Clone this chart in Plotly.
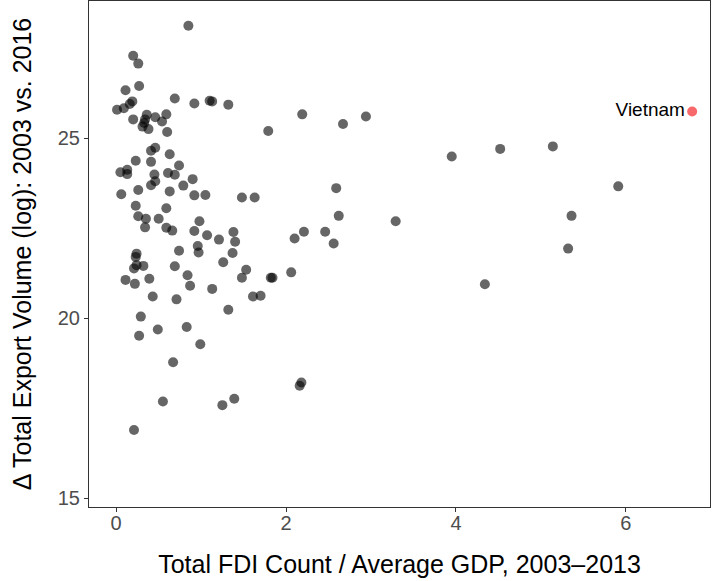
import plotly.graph_objects as go

# FDI count / avg GDP (x) and change in export volume (log) (y)
fdi_ratio = [
    0.85, 0.20, 0.26, 0.27, 0.11, 0.69, 0.92, 1.10, 1.13, 1.32,
    0.19, 0.16, 0.01, 0.09, 0.36, 0.34, 0.33, 0.46, 0.59, 0.20,
    0.31, 0.38, 0.54, 0.60, 1.79, 0.46, 0.41, 0.63, 0.23, 0.41,
    0.74, 0.05, 0.13, 0.13, 0.45, 0.61, 0.69, 0.90, 0.46, 0.41,
    0.79, 0.26, 0.63, 0.06, 0.92, 1.05, 1.48, 1.63, 0.23, 0.59,
    0.26, 0.35, 0.50, 0.34, 0.59, 0.66, 0.98, 0.92, 1.07, 1.21,
    1.38, 1.40, 0.96, 0.97, 0.74, 1.37, 0.24, 0.23, 0.32, 0.21,
    0.24, 0.69, 1.26, 1.53, 1.48, 1.82, 1.84, 0.84, 0.39, 0.11,
    0.22, 0.87, 1.13, 0.43, 0.71, 1.61, 1.70, 1.32, 0.29, 0.49,
    0.83, 0.27, 0.99, 0.67, 0.55, 1.25, 1.39, 0.21, 2.19, 2.67,
    2.94, 3.95, 2.59, 2.62, 3.29, 2.10, 2.21, 2.46, 2.56, 2.06,
    2.18, 2.16, 4.52, 5.14, 5.91, 5.36, 5.32, 4.34,
]
export_change = [
    28.12, 27.29, 27.07, 26.45, 26.33, 26.10, 25.96, 26.04, 26.02, 25.93,
    26.02, 25.95, 25.79, 25.83, 25.65, 25.52, 25.42, 25.58, 25.66, 25.52,
    25.32, 25.25, 25.46, 25.17, 25.20, 24.73, 24.65, 24.55, 24.37, 24.34,
    24.24, 24.05, 24.12, 24.00, 23.99, 24.03, 23.98, 23.86, 23.80, 23.69,
    23.68, 23.56, 23.52, 23.44, 23.41, 23.42, 23.35, 23.35, 23.12, 23.05,
    22.83, 22.76, 22.76, 22.52, 22.51, 22.43, 22.69, 22.42, 22.30, 22.18,
    22.39, 22.12, 22.00, 21.82, 21.87, 21.81, 21.79, 21.70, 21.45, 21.38,
    21.47, 21.44, 21.55, 21.34, 21.12, 21.12, 21.12, 21.19, 21.09, 21.06,
    20.95, 20.90, 20.81, 20.60, 20.52, 20.60, 20.62, 20.23, 20.04, 19.68,
    19.75, 19.51, 19.27, 18.77, 17.68, 17.58, 17.76, 16.89, 25.66, 25.39,
    25.60, 24.49, 23.61, 22.84, 22.69, 22.21, 22.40, 22.40, 22.07, 21.27,
    18.21, 18.12, 24.70, 24.77, 23.66, 22.84, 21.93, 20.94,
]

highlight_name = ["Vietnam"]
highlight_x = [6.78]
highlight_y = [25.74]

x_ticks = [0, 2, 4, 6]
y_ticks = [15, 20, 25]

FONT = "Liberation Sans, Arial, Helvetica, sans-serif"

fig = go.Figure()
fig.add_trace(go.Scatter(
    x=fdi_ratio, y=export_change, mode="markers",
    marker=dict(size=10, color="rgba(0,0,0,0.6)", line=dict(width=0)),
    showlegend=False, hoverinfo="x+y",
))
fig.add_trace(go.Scatter(
    x=highlight_x, y=highlight_y, mode="markers+text",
    text=highlight_name, textposition="middle left",
    textfont=dict(family=FONT, size=19, color="black"),
    marker=dict(size=10, color="#F8696B", line=dict(width=0)),
    showlegend=False,
))

axis_common = dict(
    showgrid=False, zeroline=False, showline=True, mirror=True,
    linecolor="#333333", linewidth=1, ticks="outside", ticklen=4,
    tickcolor="#333333", tickwidth=1, automargin=False,
    tickfont=dict(family=FONT, size=20, color="#4D4D4D"),
)

fig.update_layout(
    width=712, height=581,
    margin=dict(l=89, r=2, t=1, b=74),
    paper_bgcolor="white", plot_bgcolor="white",
    font=dict(family=FONT),
    xaxis=dict(
        range=[-0.32, 6.99], tickvals=x_ticks, ticklabelstandoff=-6,
        title=dict(text="Total FDI Count / Average GDP, 2003–2013",
                   font=dict(family=FONT, size=25, color="black"), standoff=22),
        **axis_common,
    ),
    yaxis=dict(
        range=[14.75, 28.81], tickvals=y_ticks,
        title=dict(text="Δ Total Export Volume (log): 2003 vs. 2016",
                   font=dict(family=FONT, size=25, color="black"), standoff=19),
        **axis_common,
    ),
)

fig.write_html("out.html", config={"displayModeBar": False},
               post_script="document.body.style.margin='0';document.body.style.overflow='hidden';")
